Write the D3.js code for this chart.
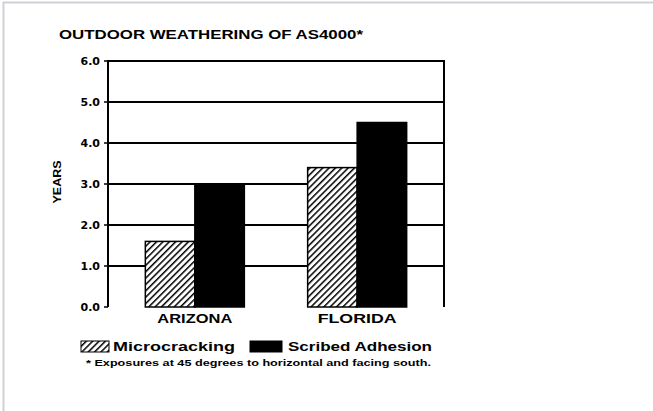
<!DOCTYPE html>
<html>
<head>
<meta charset="utf-8">
<script src="https://cdn.jsdelivr.net/npm/d3@7"></script>
<style>
  body { margin: 0; background: #fff; }
</style>
</head>
<body>
<div id="chart"></div>
<script>
// data
const regions = ['ARIZONA', 'FLORIDA']
const seriesNames = ['Microcracking', 'Scribed Adhesion']
const microcracking = [1.6, 3.4]
const scribedAdhesion = [3.0, 4.5]
const yTicks = [0, 1, 2, 3, 4, 5, 6]

const title = 'OUTDOOR WEATHERING OF AS4000*'
const yTitle = 'YEARS'
const footnote = '* Exposures at 45 degrees to horizontal and facing south.'

const width = 653
const height = 411
const margin = { top: 61, left: 108 }
const innerWidth = 336
const innerHeight = 246

const rows = regions.map((r, i) => ({ region: r, values: [microcracking[i], scribedAdhesion[i]] }))

const svg = d3.select('#chart')
  .append('svg')
  .attr('width', width)
  .attr('height', height)
  .attr('font-family', '"Liberation Sans", Arial, sans-serif')
  .attr('font-weight', 'bold')

// page border (top + left)
svg.append('line').attr('x1', 3).attr('x2', width).attr('y1', 2.5).attr('y2', 2.5)
  .attr('stroke', '#cdd1d6').attr('stroke-width', 2)
svg.append('line').attr('x1', 3.5).attr('x2', 3.5).attr('y1', 2).attr('y2', height)
  .attr('stroke', '#cdd1d6').attr('stroke-width', 2)

// hatch pattern
const defs = svg.append('defs')
const pat = defs.append('pattern')
  .attr('id', 'hatch')
  .attr('patternUnits', 'userSpaceOnUse')
  .attr('width', 4.5)
  .attr('height', 4.5)
  .attr('patternTransform', 'rotate(45)')
pat.append('rect').attr('width', 4.5).attr('height', 4.5).attr('fill', '#fff')
pat.append('line').attr('x1', 0).attr('x2', 0).attr('y1', 0).attr('y2', 4.5)
  .attr('stroke', '#000').attr('stroke-width', 3)
const fills = ['url(#hatch)', '#000']

const main = svg.append('g')
  .attr('transform', `translate(${margin.left}, ${margin.top})`)

const x0 = d3.scaleBand()
  .domain(regions)
  .range([0, innerWidth])
  .paddingInner(0.39)
  .paddingOuter(0.23)

const x1 = d3.scaleBand()
  .domain(seriesNames)
  .range([0, x0.bandwidth()])

const y = d3.scaleLinear()
  .domain([0, 6])
  .range([innerHeight, 0])

// gridlines
main.append('g')
  .selectAll('line')
  .data(yTicks.filter(d => d > 0 && d < 6))
  .enter()
  .append('line')
  .attr('x1', 0)
  .attr('x2', innerWidth)
  .attr('y1', d => y(d))
  .attr('y2', d => y(d))
  .attr('stroke', '#000')
  .attr('stroke-width', 1.8)

// bars
const groups = main.append('g')
  .selectAll('g')
  .data(rows)
  .enter()
  .append('g')
  .attr('transform', d => `translate(${x0(d.region)}, 0)`)

groups.selectAll('rect')
  .data(d => d.values.map((v, i) => ({ key: seriesNames[i], value: v, i })))
  .enter()
  .append('rect')
  .attr('x', d => x1(d.key))
  .attr('width', x1.bandwidth())
  .attr('y', d => y(d.value))
  .attr('height', d => innerHeight - y(d.value))
  .attr('fill', d => fills[d.i])
  .attr('stroke', '#000')
  .attr('stroke-width', 1.5)

// frame: left, top, right
main.append('path')
  .attr('d', `M0,${innerHeight} V0 H${innerWidth} V${innerHeight}`)
  .attr('fill', 'none')
  .attr('stroke', '#000')
  .attr('stroke-width', 2)

// y axis ticks + labels
const fmt = d3.format('.1f')
main.append('g')
  .selectAll('line')
  .data(yTicks)
  .enter()
  .append('line')
  .attr('x1', -4).attr('x2', 0)
  .attr('y1', d => y(d)).attr('y2', d => y(d))
  .attr('stroke', '#000').attr('stroke-width', 1.5)
main.append('g')
  .selectAll('text')
  .data(yTicks)
  .enter()
  .append('text')
  .text(d => fmt(d))
  .attr('x', -8)
  .attr('y', d => y(d) + 4)
  .attr('text-anchor', 'end')
  .attr('font-size', 11)
  .attr('font-family', '"DejaVu Sans", sans-serif')
  .attr('fill', '#000')

// x labels
main.append('g')
  .selectAll('text')
  .data(regions)
  .enter()
  .append('text')
  .text(d => d)
  .attr('x', d => x0(d) + x0.bandwidth() / 2)
  .attr('y', innerHeight + 16)
  .attr('text-anchor', 'middle')
  .attr('font-size', 12)
  .attr('textLength', (d, i) => [75, 79][i])
  .attr('lengthAdjust', 'spacingAndGlyphs')
  .attr('fill', '#000')

// title
svg.append('text')
  .text(title)
  .attr('x', 59)
  .attr('y', 39)
  .attr('font-size', 12)
  .attr('textLength', 304)
  .attr('lengthAdjust', 'spacingAndGlyphs')

// y title
svg.append('text')
  .text(yTitle)
  .attr('transform', `translate(61, 182) rotate(-90)`)
  .attr('text-anchor', 'middle')
  .attr('font-size', 10)
  .attr('textLength', 43)
  .attr('lengthAdjust', 'spacingAndGlyphs')

// legend
const legendX = [81, 250]
const legendW = [28, 32]
const legendTextX = [113, 288]
const legendTextW = [122, 144]
const legend = svg.append('g')
legend.selectAll('rect')
  .data(seriesNames)
  .enter()
  .append('rect')
  .attr('x', (d, i) => legendX[i])
  .attr('y', 341)
  .attr('width', (d, i) => legendW[i])
  .attr('height', 11)
  .attr('fill', (d, i) => fills[i])
  .attr('stroke', '#000')
  .attr('stroke-width', 1)
legend.selectAll('text')
  .data(seriesNames)
  .enter()
  .append('text')
  .text(d => d)
  .attr('x', (d, i) => legendTextX[i])
  .attr('y', 351)
  .attr('font-size', 13)
  .attr('textLength', (d, i) => legendTextW[i])
  .attr('lengthAdjust', 'spacingAndGlyphs')

// footnote
svg.append('text')
  .text(footnote)
  .attr('x', 86)
  .attr('y', 366)
  .attr('font-size', 9)
  .attr('textLength', 345)
  .attr('lengthAdjust', 'spacingAndGlyphs')
</script>
</body>
</html>
